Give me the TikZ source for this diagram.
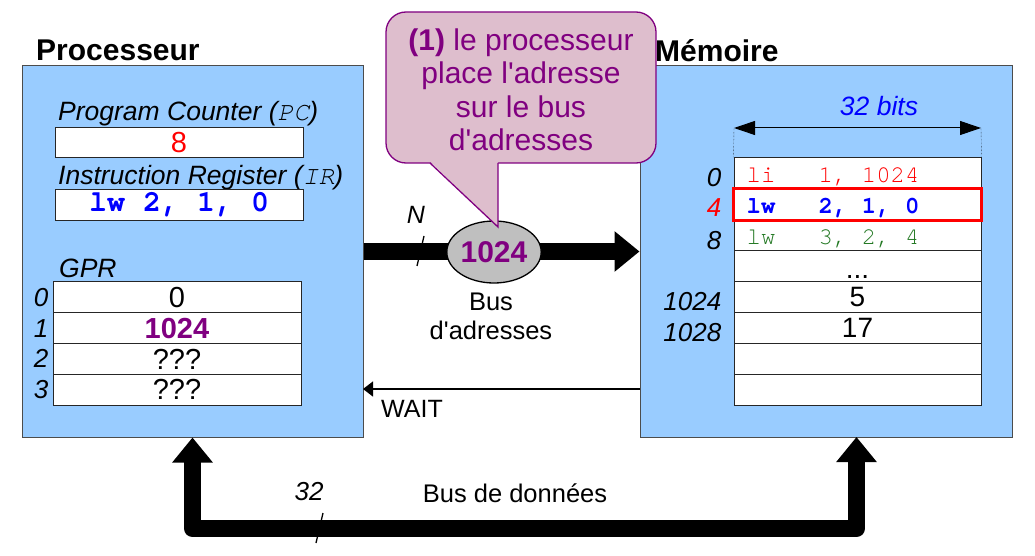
\documentclass[tikz,border=0pt]{standalone}
\usepackage{fontspec}
\setmainfont{Liberation Sans}
\setmonofont{TeX Gyre Cursor}
\usetikzlibrary{arrows.meta,shapes.geometric,calc}

\definecolor{unitblue}{RGB}{153,204,255}
\definecolor{purp}{RGB}{128,0,128}
\definecolor{bubblepink}{RGB}{222,190,205}
\definecolor{codegreen}{RGB}{34,120,34}
\newcommand{\sz}[1]{\fontsize{#1}{#1}\selectfont}

\begin{document}
\begin{tikzpicture}[x=1pt,y=-1pt,
  unit/.style={draw=black!70, fill=unitblue, line width=1pt, inner sep=0pt},
  title/.style={font=\sz{30}\bfseries, anchor=base west, inner sep=0pt},
  lbl/.style={font=\sz{26.5}\itshape, anchor=base west, inner sep=0pt},
  idx/.style={font=\sz{26}\itshape, anchor=east, inner sep=0pt},
  cell/.style={draw=black!85, fill=white, line width=1pt, inner sep=0pt,
    minimum width=248pt, minimum height=30.8pt, font=\sz{29}},
  code/.style={font=\sz{24}\ttfamily, anchor=base west, inner sep=0pt},
  bus/.style={line width=17pt, -{Triangle[length=25pt,width=39pt]}},
  tick/.style={line width=1.3pt}]
  \useasboundingbox (0,0) rectangle (1035,556);

  \node[unit, minimum width=341pt, minimum height=371pt] (proc) at (192.5,251.5) {};
  \node[unit, minimum width=372pt, minimum height=371pt] (mem) at (826,251.5) {};

  % processeur
  \node[lbl] (pclbl) at (58,121) {Program Counter ({\ttfamily PC})};
  \node[cell, minimum height=30pt, text=red] (pc) at (179,143) {8};
  \node[lbl] (irlbl) at (58,185) {Instruction Register ({\ttfamily IR})};
  \node[cell, minimum height=31pt, text=blue, font=\sz{30}\ttfamily\bfseries] (ir) at (179,204.5) {lw 2, 1, 0};
  \node[lbl] (gprlbl) at (59,277) {GPR};
  \foreach \v [count=\i from 0] in {0,{\bfseries\color{purp}1024},???,???} {
    \node[cell] (gpr\i) at (177,{282+30.75*(\i+0.5)}) {\v};
    \node[idx, xshift=-4pt] (gi\i) at (gpr\i.west) {\i};
  }

  % memoire
  \foreach \i in {0,...,7}
    \node[cell, minimum width=247pt, minimum height=30.875pt] (m\i) at (857.5,{158+30.875*(\i+0.5)}) {};
  \node[code, text=red] (c0) at ($(m0.west)+(13,9.5)$) {li~~~1, 1024};
  \node[code, text=blue, font=\sz{24}\ttfamily\bfseries] (c1) at ($(m1.west)+(13,9.5)$) {lw~~~2, 1, 0};
  \node[code, text=codegreen] (c2) at ($(m2.west)+(13,9.5)$) {lw~~~3, 2, 4};
  \node[font=\sz{28}, anchor=base, inner sep=0pt] (dots) at ($(m3.south)+(0,-4)$) {...};
  \node[font=\sz{28}, inner sep=0pt] (v5) at (m4) {5};
  \node[font=\sz{28}, inner sep=0pt] (v17) at (m5) {17};
  \draw[red, line width=2.5pt] (m1.south west) rectangle (m1.north east);
  \node[idx] (a0) at ($(m0.west)+(-12,4)$) {0};
  \node[idx, text=red] (a4) at ($(m1.west)+(-12,3)$) {4};
  \node[idx] (a8) at ($(m2.west)+(-12,5)$) {8};
  \node[idx] (a1024) at ($(m4.west)+(-12,5)$) {1024};
  \node[idx] (a1028) at ($(m5.west)+(-12,5)$) {1028};

  \coordinate (bl) at (734,128);
  \coordinate (br) at (981,128);
  \draw[{Triangle[length=21pt,width=14pt]}-{Triangle[length=21pt,width=14pt]}, line width=1pt] (bl) -- (br);
  \draw[densely dotted] (bl) -- (m0.north west);
  \draw[densely dotted] (br) -- (m0.north east);
  \node[font=\sz{26.5}\itshape, text=blue, anchor=base, inner sep=0pt] (bits) at (879,116) {32 bits};

  % bus d'adresses
  \draw[bus] (proc.east) -- (mem.west);
  \node[ellipse, draw, fill=black!25, line width=1.3pt, minimum width=76pt, minimum height=62pt,
    inner sep=0pt, font=\sz{30}\bfseries, text=purp] (addr) at (494,252) {1024};
  \node[font=\sz{25}\itshape] (n) at (416,215) {N};
  \draw[tick] (424,236) -- (417,266);
  \node[align=center, font=\fontsize{25.5}{29}\selectfont] (busa) at (491,316) {Bus\\d\textquotesingle adresses};

  % WAIT
  \coordinate (waitA) at (640,389);
  \coordinate (waitB) at (363,389);
  \draw[-{Triangle[length=10pt,width=15pt]}, line width=1.3pt] (waitA) -- (waitB);
  \node[font=\sz{25}, anchor=base west, inner sep=0pt] (wait) at (381,417) {WAIT};

  % bus de donnees
  \coordinate (dL) at (proc.south);
  \coordinate (dBL) at (192.5,528.5);
  \coordinate (dBR) at (856.5,528.5);
  \coordinate (dR) at (856.5,437);
  \draw[line width=17pt, line join=round, {Triangle[length=25pt,width=39pt]}-{Triangle[length=25pt,width=39pt]}]
    (dL) -- (dBL) -- (dBR) -- (dR);
  \node[font=\sz{26}\itshape] (w32) at (309,492) {32};
  \draw[tick] (323,513) -- (316,543);
  \node[font=\sz{25.5}, anchor=base, inner sep=0pt] (busd) at (515,502) {Bus de données};

  % bulle
  \node[draw=purp, fill=bubblepink, rounded corners=20pt, line width=1.3pt,
    minimum width=270pt, minimum height=151pt] (bubble) at (521,87.5) {};
  \fill[bubblepink] (430,161.5) -- (498,161.5) -- (498,227) -- cycle;
  \draw[purp, line width=1.3pt] (430,163) -- (498,227) -- (498,163);
  \node[align=center, text=purp, font=\fontsize{30}{33.5}\selectfont] (bubtxt) at (521,90)
    {{\bfseries (1)} le processeur\\place l\textquotesingle adresse\\sur le bus\\d\textquotesingle adresses};

  \node[title] (proct) at (36,61) {Processeur};
  \node[title] (memt) at (655,62) {Mémoire};
\end{tikzpicture}
\end{document}
